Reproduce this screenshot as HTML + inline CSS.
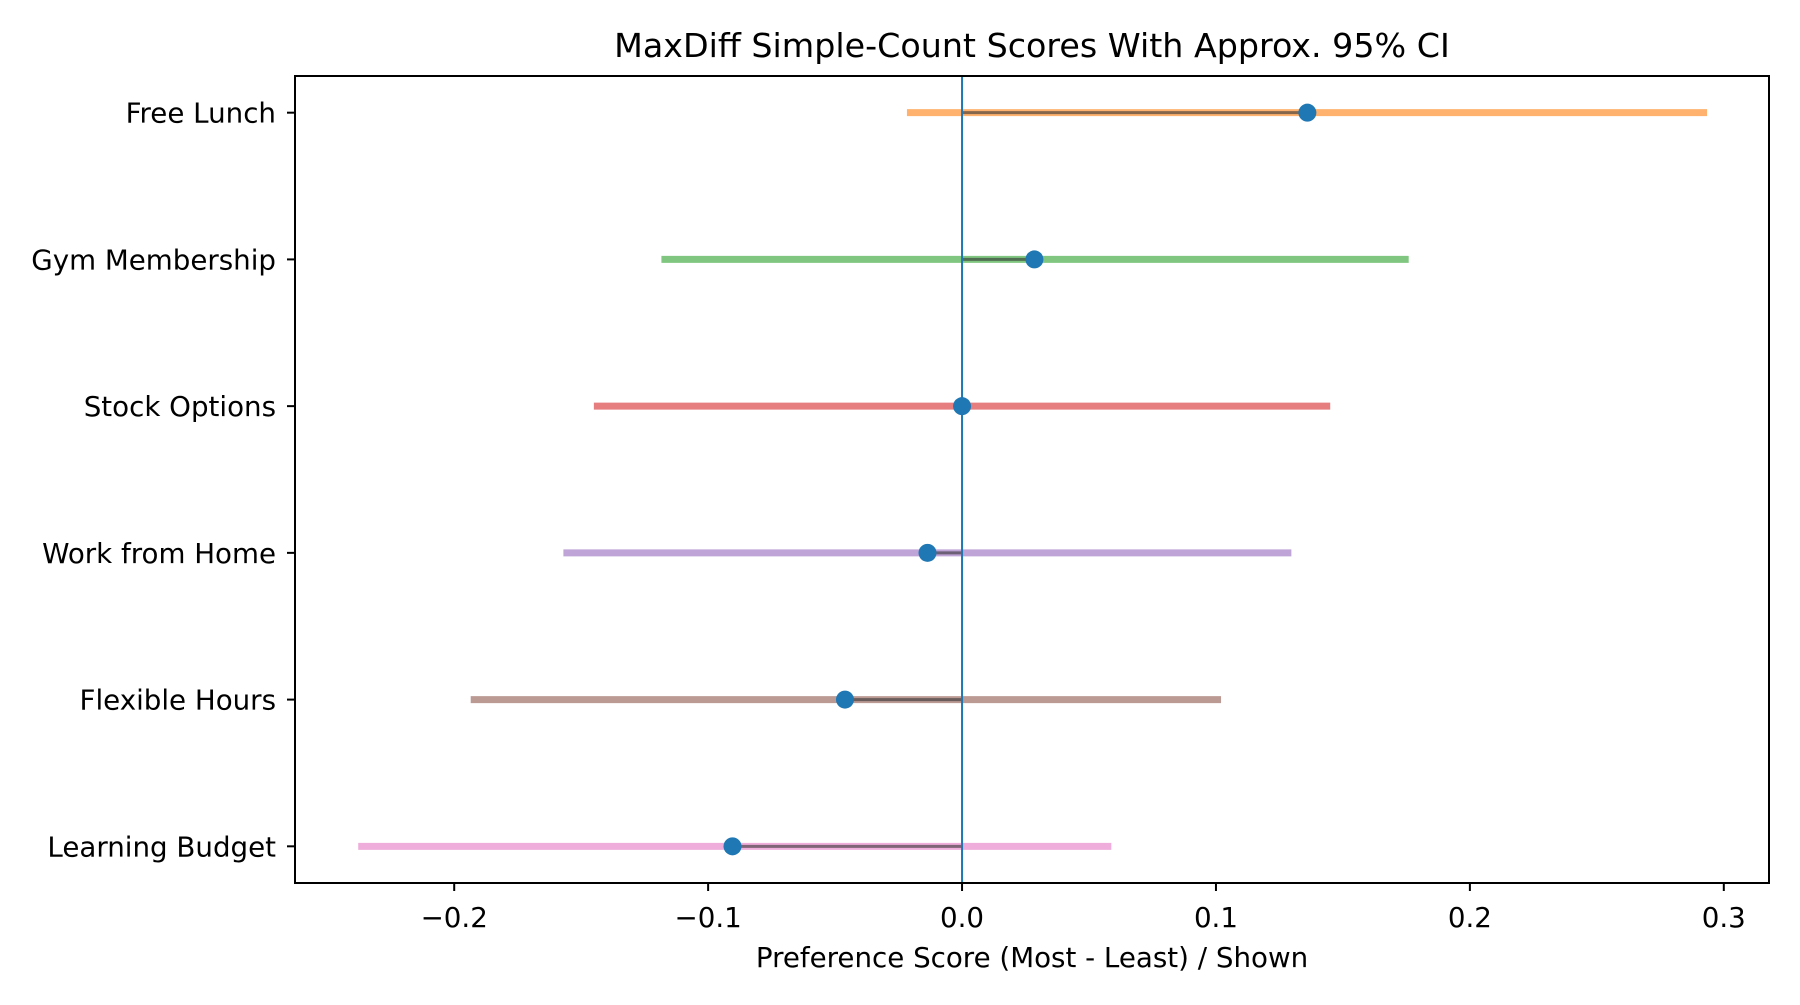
<!DOCTYPE html>
<html><head><meta charset="utf-8"><style>
body{margin:0;background:#fff;}
svg text{font-family:"DejaVu Sans","Liberation Sans",sans-serif;fill:#000;}
</style></head><body>
<svg id="chart" width="1800" height="1000" xmlns="http://www.w3.org/2000/svg">
<rect width="1800" height="1000" fill="#fff"/>
<g id="plot"></g>
</svg>
<script>
const categories = ["Free Lunch","Gym Membership","Stock Options","Work from Home","Flexible Hours","Learning Budget"];
const scores = [0.136, 0.0285, 0.0, -0.0136, -0.0461, -0.0904];
const ciLow = [-0.0217, -0.1184, -0.145, -0.157, -0.1935, -0.2378];
const ciHigh = [0.2934, 0.1759, 0.145, 0.1297, 0.102, 0.0588];
const colors = ["#ff7f0e","#2ca02c","#d62728","#9467bd","#8c564b","#e377c2"];
const xTicks = [-0.2, -0.1, 0.0, 0.1, 0.2, 0.3];
const xTickLabels = ["\u22120.2","\u22120.1","0.0","0.1","0.2","0.3"];

const L=295,R=1769,T=76,B=883;
const xmin=-0.2627,xmax=0.3178;
function xs(v){return L+(v-xmin)/(xmax-xmin)*(R-L);}
const step=(B-T)/5.5;
function ys(i){return T+0.25*step+i*step;}
const NS="http://www.w3.org/2000/svg";
const g=document.getElementById('plot');
function mk(t,a,parent){const e=document.createElementNS(NS,t);for(const k in a)e.setAttribute(k,a[k]);(parent||g).appendChild(e);return e;}

categories.forEach((c,i)=>{
  const y=ys(i);
  const ci=mk('line',{x1:xs(ciLow[i]),x2:xs(ciHigh[i]),y1:y,y2:y,stroke:colors[i],'stroke-width':7,'stroke-opacity':0.6});
  
  
  const st=mk('line',{x1:xs(0),x2:xs(scores[i]),y1:y,y2:y,stroke:'#333','stroke-width':3,'stroke-opacity':0.6});
  
  
});
const vl=mk('line',{x1:xs(0),x2:xs(0),y1:T,y2:B,stroke:'#1f77b4','stroke-width':2});


categories.forEach((c,i)=>{
  const y=ys(i);
  const p=mk('circle',{cx:xs(scores[i]),cy:y,r:9,fill:'#1f77b4'});
  
  
  const tk=mk('line',{x1:L-8,x2:L,y1:y,y2:y,stroke:'#000','stroke-width':2});
  
  
  const lb=mk('text',{x:L-19,y:y+10,'text-anchor':'end','font-size':27.7});
  lb.textContent=c;
  
  
});
xTicks.forEach((v,i)=>{
  const x=xs(v);
  const tk=mk('line',{x1:x,x2:x,y1:B,y2:B+8,stroke:'#000','stroke-width':2});
  
  
  const lb=mk('text',{x:x,y:B+44,'text-anchor':'middle','font-size':27.7});
  lb.textContent=xTickLabels[i];
  
  
});
const fr=mk('rect',{x:L,y:T,width:R-L,height:B-T,fill:'none',stroke:'#000','stroke-width':2});


const xl=mk('text',{x:(L+R)/2,y:967,'text-anchor':'middle','font-size':27.7});
xl.textContent='Preference Score (Most - Least) / Shown';


const tt=mk('text',{x:(L+R)/2,y:57,'text-anchor':'middle','font-size':33.3});
tt.textContent='MaxDiff Simple-Count Scores With Approx. 95% CI';


</script>
</body></html>
